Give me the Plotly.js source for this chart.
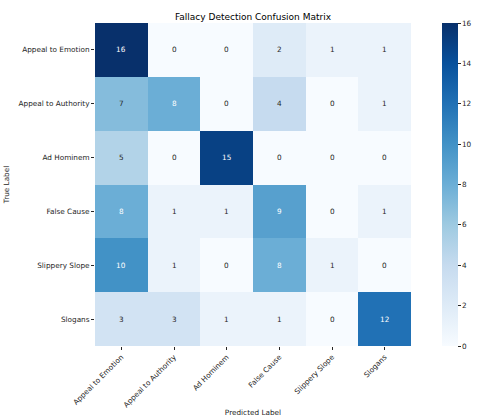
<!DOCTYPE html>
<html><head><meta charset="utf-8">
<script src="https://cdn.plot.ly/plotly-3.0.1.min.js"></script>
<style>body{margin:0;background:#fff}#chart{width:484px;height:417px}</style>
</head><body><div id="chart"></div>
<script>
const labels = ["Appeal to Emotion","Appeal to Authority","Ad Hominem","False Cause","Slippery Slope","Slogans"];
const rowEmotion   = [16,0,0,2,1,1];
const rowAuthority = [7,8,0,4,0,1];
const rowHominem   = [5,0,15,0,0,0];
const rowCause     = [8,1,1,9,0,1];
const rowSlope     = [10,1,0,8,1,0];
const rowSlogans   = [3,3,1,1,0,12];
const z = [rowEmotion,rowAuthority,rowHominem,rowCause,rowSlope,rowSlogans];

const blues = [
 [0,"#f7fbff"],[0.125,"#deebf7"],[0.25,"#c6dbef"],[0.375,"#9ecae1"],
 [0.5,"#6baed6"],[0.625,"#4292c6"],[0.75,"#2171b5"],[0.875,"#08519c"],[1,"#08306b"]
];

const annotations = [];
z.forEach((row,i)=>row.forEach((v,j)=>{
  annotations.push({x:labels[j],y:labels[i],text:String(v),showarrow:false,
    font:{family:"DejaVu Sans",size:7.3,color:v>=8?"#ffffff":"#262626"}});
}));

const font = {family:"DejaVu Sans", size:7.3, color:"#262626"};
Plotly.newPlot("chart",[{
  type:"heatmap", x:labels, y:labels, z:z, zmin:0, zmax:16,
  colorscale:blues, hoverinfo:"skip",
  colorbar:{x:1.098, xanchor:"left", xpad:0, ypad:0, y:0.5, len:1, thickness:16,
    outlinewidth:0, ticks:"outside", ticklen:3, tickcolor:"#262626",
    tickvals:[0,2,4,6,8,10,12,14,16], tickfont:font}
}],{
  width:484, height:417, margin:{l:95,r:63,t:23,b:71},
  paper_bgcolor:"#fff", plot_bgcolor:"#fff", font:font,
  title:{text:"Fallacy Detection Confusion Matrix", x:0.5, xref:"paper", y:0.959, yanchor:"middle",
    font:{family:"DejaVu Sans",size:9,color:"#000"}},
  xaxis:{tickangle:-45, ticks:"outside", ticklen:3, tickcolor:"#262626", showgrid:false, zeroline:false,
    title:{text:"Predicted Label", standoff:8, font:{family:"DejaVu Sans",size:7.3,color:"#262626"}}},
  yaxis:{autorange:"reversed", ticks:"outside", ticklen:3, tickcolor:"#262626", showgrid:false, zeroline:false,
    title:{text:"True Label", standoff:8, font:{family:"DejaVu Sans",size:7.3,color:"#262626"}}},
  annotations:annotations
},{displayModeBar:false, staticPlot:true});
</script></body></html>
